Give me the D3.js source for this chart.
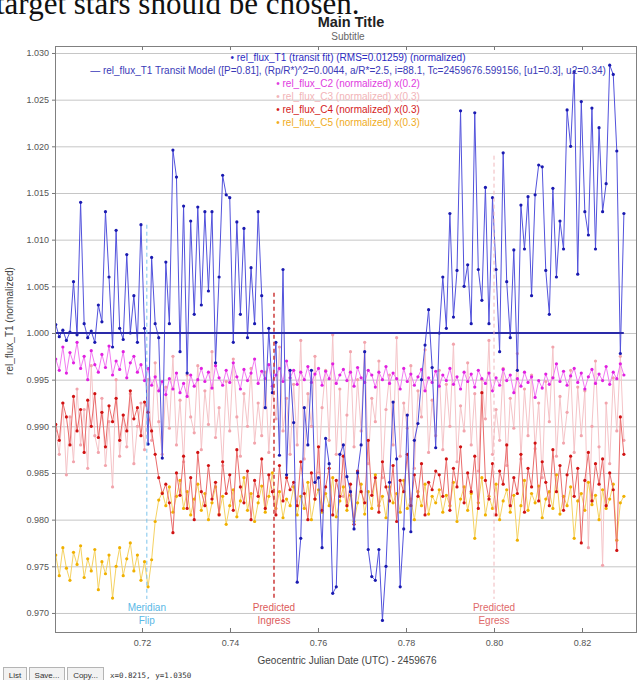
<!DOCTYPE html>
<html>
<head>
<meta charset="utf-8">
<script src="https://cdn.jsdelivr.net/npm/d3@7"></script>
<style>
	body { margin: 0; background: #fff; }
	svg { display: block; font-family: "Liberation Sans", Arial, sans-serif; }
</style>
</head>
<body>
<div id="chart"></div>
<script>
/* global d3 */

// Observation cadence (days) and first exposure, offset from JD 2459676
const startTime = 0.7004;
const cadence = 0.000807;

const xTickValues = [ 0.72, 0.74, 0.76, 0.78, 0.80, 0.82 ];
const yTickValues = [ 0.970, 0.975, 0.980, 0.985, 0.990, 0.995, 1.000, 1.005, 1.010, 1.015, 1.020, 1.025, 1.030 ];

const t1Flux = [
	1.0009, 0.9996, 1.0003, 0.9992, 1.0001, 1.0055, 0.9998, 1.0140, 1.0010, 0.9995,
	1.0002, 0.9990, 1.0030, 1.0012, 1.0130, 1.0060, 0.9985, 1.0110, 1.0005, 0.9993,
	1.0084, 1.0000, 1.0040, 0.9990, 1.0116, 1.0005, 0.9881, 1.0081, 1.0010, 0.9995,
	0.9866, 1.0076, 1.0010, 1.0196, 1.0167, 0.9980, 1.0136, 0.9957, 1.0120, 1.0020,
	1.0135, 1.0030, 1.0130, 1.0045, 1.0130, 0.9968, 1.0060, 1.0169, 1.0148, 1.0145,
	0.9990, 1.0119, 1.0020, 1.0112, 0.9995, 1.0070, 1.0010, 1.0130, 1.0040, 0.9920,
	1.0005, 0.9936, 0.9990, 0.9869, 1.0068, 0.9848, 0.9960, 0.9904, 0.9733, 0.9780,
	0.9920, 0.9880, 0.9960, 0.9840, 0.9845, 0.9770, 0.9887, 0.9860, 0.9721, 0.9728,
	0.9870, 0.9880, 0.9846, 0.9830, 0.9790, 0.9850, 0.9880, 0.9980, 0.9768, 0.9739,
	0.9735, 0.9768, 0.9692, 0.9750, 0.9840, 0.9926, 0.9865, 0.9728, 0.9790, 0.9912,
	0.9787, 0.9885, 0.9903, 0.9950, 0.9987, 1.0025, 0.9963, 0.9877, 1.0000, 1.0060,
	1.0005, 1.0128, 1.0017, 1.0067, 1.0238, 1.0050, 1.0073, 1.0010, 1.0236, 1.0068,
	1.0035, 1.0156, 1.0010, 1.0145, 1.0068, 0.9980, 1.0193, 1.0055, 0.9995, 1.0089,
	0.9960, 1.0137, 1.0090, 1.0146, 1.0040, 1.0148, 1.0180, 1.0178, 1.0067, 1.0020,
	1.0155, 1.0060, 1.0120, 1.0090, 1.0239, 1.0200, 1.0280, 1.0063, 1.0248, 1.0130,
	1.0105, 1.0241, 1.0090, 1.0220, 1.0130, 1.0160, 1.0287, 1.0277, 1.0195, 0.9978,
	1.0128,
];

const c2Flux = [
	0.9972, 0.9960, 0.9985, 0.9957, 0.9979, 0.9968, 0.9990, 0.9962, 0.9975, 0.9950,
	0.9981, 0.9966, 0.9958, 0.9977, 0.9963, 0.9986, 0.9955, 0.9970, 0.9961, 0.9980,
	0.9952, 0.9968, 0.9975, 0.9958, 0.9966, 0.9949, 0.9962, 0.9944, 0.9953, 0.9938,
	0.9948, 0.9934, 0.9951, 0.9940, 0.9957, 0.9936, 0.9946, 0.9932, 0.9955, 0.9943,
	0.9950, 0.9962, 0.9948, 0.9958, 0.9941, 0.9965, 0.9952, 0.9944, 0.9960, 0.9947,
	0.9968, 0.9953, 0.9940, 0.9961, 0.9949, 0.9957, 0.9972, 0.9946, 0.9959, 0.9951,
	0.9966, 0.9943, 0.9955, 0.9962, 0.9948, 0.9970, 0.9952, 0.9960, 0.9945, 0.9958,
	0.9950, 0.9964, 0.9947, 0.9956, 0.9962, 0.9944, 0.9959, 0.9951, 0.9967, 0.9946,
	0.9955, 0.9961, 0.9949, 0.9958, 0.9943, 0.9963, 0.9952, 0.9947, 0.9960, 0.9955,
	0.9942, 0.9958, 0.9950, 0.9964, 0.9946, 0.9957, 0.9951, 0.9940, 0.9962, 0.9948,
	0.9956, 0.9944, 0.9953, 0.9961, 0.9938, 0.9952, 0.9947, 0.9959, 0.9943, 0.9955,
	0.9949, 0.9962, 0.9945, 0.9953, 0.9940, 0.9958, 0.9948, 0.9956, 0.9942, 0.9960,
	0.9951, 0.9946, 0.9957, 0.9938, 0.9952, 0.9944, 0.9961, 0.9949, 0.9955, 0.9936,
	0.9951, 0.9943, 0.9958, 0.9947, 0.9953, 0.9931, 0.9949, 0.9941, 0.9956, 0.9945,
	0.9952, 0.9967, 0.9948, 0.9959, 0.9944, 0.9954, 0.9962, 0.9947, 0.9957, 0.9940,
	0.9953, 0.9961, 0.9946, 0.9956, 0.9949, 0.9964, 0.9945, 0.9958, 0.9951, 0.9967,
	0.9955,
];

const c3Flux = [
	0.9895, 0.9870, 0.9925, 0.9848, 0.9910, 0.9862, 0.9940, 0.9880, 0.9918, 0.9855,
	0.9965, 0.9890, 0.9872, 0.9930, 0.9858, 0.9905, 0.9835, 0.9950, 0.9868, 0.9912,
	0.9878, 0.9935, 0.9860, 0.9900, 0.9925, 0.9875, 0.9950, 0.9885, 0.9968, 0.9905,
	0.9870, 0.9942, 0.9898, 0.9975, 0.9880, 0.9928, 0.9862, 0.9955, 0.9910, 0.9893,
	0.9965, 0.9875, 0.9938, 0.9902, 0.9980, 0.9888, 0.9920, 0.9858, 0.9948, 0.9895,
	0.9972, 0.9910, 0.9868, 0.9935, 0.9900, 0.9962, 0.9882, 0.9925, 0.9890, 0.9958,
	0.9872, 0.9940, 0.9908, 0.9985, 0.9895, 0.9930, 0.9870, 0.9945, 0.9880, 0.9992,
	0.9865, 0.9935, 0.9900, 0.9975, 0.9850, 0.9920, 0.9960, 0.9885, 0.9998, 0.9870,
	0.9940, 0.9825, 0.9912, 0.9980, 0.9878, 0.9950, 0.9895, 0.9990, 0.9860, 0.9930,
	0.9905, 0.9970, 0.9845, 0.9918, 0.9955, 0.9880, 0.9995, 0.9868, 0.9925, 0.9898,
	0.9965, 0.9855, 0.9938, 0.9910, 0.9982, 0.9872, 0.9928, 0.9890, 0.9960, 0.9875,
	0.9945, 0.9900, 0.9988, 0.9862, 0.9922, 0.9895, 0.9968, 0.9880, 0.9935, 0.9852,
	0.9950, 0.9908, 0.9992, 0.9870, 0.9918, 0.9885, 0.9962, 0.9858, 0.9930, 0.9898,
	0.9978, 0.9865, 0.9940, 0.9890, 0.9955, 0.9876, 0.9925, 0.9845, 0.9948, 0.9905,
	0.9985, 0.9868, 0.9932, 0.9882, 0.9915, 0.9960, 0.9872, 0.9942, 0.9890, 0.9938,
	0.9770, 0.9900, 0.9970, 0.9878, 0.9751, 0.9925, 0.9860, 0.9952, 0.9895, 0.9975,
	0.9885,
];

const c4Flux = [
	0.9902, 0.9885, 0.9925, 0.9910, 0.9880, 0.9932, 0.9895, 0.9918, 0.9872, 0.9928,
	0.9900, 0.9935, 0.9888, 0.9915, 0.9878, 0.9922, 0.9905, 0.9930, 0.9885, 0.9912,
	0.9895, 0.9938, 0.9908, 0.9920, 0.9890, 0.9926, 0.9915, 0.9895, 0.9870, 0.9845,
	0.9828, 0.9838, 0.9818, 0.9786, 0.9850, 0.9826, 0.9868, 0.9812, 0.9845, 0.9800,
	0.9872, 0.9830, 0.9815, 0.9858, 0.9822, 0.9840, 0.9805, 0.9862, 0.9828, 0.9848,
	0.9810, 0.9875, 0.9835, 0.9818, 0.9852, 0.9800, 0.9842, 0.9825, 0.9865, 0.9812,
	0.9848, 0.9830, 0.9805, 0.9858, 0.9820, 0.9845, 0.9832, 0.9840, 0.9815, 0.9862,
	0.9828, 0.9800, 0.9850, 0.9822, 0.9878, 0.9810, 0.9835, 0.9855, 0.9805, 0.9842,
	0.9825, 0.9868, 0.9815, 0.9838, 0.9795, 0.9852, 0.9830, 0.9818, 0.9885, 0.9826,
	0.9845, 0.9808, 0.9862, 0.9835, 0.9820, 0.9858, 0.9798, 0.9842, 0.9830, 0.9870,
	0.9815, 0.9848, 0.9825, 0.9860, 0.9805, 0.9840, 0.9832, 0.9852, 0.9848, 0.9825,
	0.9865, 0.9810, 0.9855, 0.9835, 0.9878, 0.9818, 0.9850, 0.9830, 0.9868, 0.9812,
	0.9936, 0.9842, 0.9822, 0.9860, 0.9805, 0.9852, 0.9838, 0.9880, 0.9815, 0.9845,
	0.9828, 0.9870, 0.9808, 0.9855, 0.9835, 0.9882, 0.9820, 0.9862, 0.9840, 0.9815,
	0.9875, 0.9830, 0.9858, 0.9810, 0.9848, 0.9868, 0.9825, 0.9855, 0.9775, 0.9842,
	0.9872, 0.9820, 0.9860, 0.9838, 0.9865, 0.9815, 0.9850, 0.9832, 0.9767, 0.9910,
	0.9870,
];

const c5Flux = [
	0.9762, 0.9740, 0.9770, 0.9748, 0.9735, 0.9765, 0.9752, 0.9772, 0.9738, 0.9758,
	0.9745, 0.9768, 0.9725, 0.9755, 0.9742, 0.9762, 0.9716, 0.9750, 0.9770, 0.9740,
	0.9758, 0.9775, 0.9745, 0.9762, 0.9735, 0.9755, 0.9728, 0.9757, 0.9798, 0.9821,
	0.9829, 0.9815, 0.9835, 0.9808, 0.9825, 0.9842, 0.9812, 0.9830, 0.9805, 0.9822,
	0.9838, 0.9810, 0.9828, 0.9800, 0.9818, 0.9835, 0.9806, 0.9825, 0.9795, 0.9815,
	0.9832, 0.9803, 0.9820, 0.9845, 0.9810, 0.9828, 0.9798, 0.9818, 0.9836, 0.9808,
	0.9825, 0.9850, 0.9812, 0.9830, 0.9802, 0.9822, 0.9815, 0.9835, 0.9805, 0.9825,
	0.9812, 0.9840, 0.9800, 0.9822, 0.9832, 0.9808, 0.9828, 0.9815, 0.9845, 0.9803,
	0.9820, 0.9835, 0.9810, 0.9826, 0.9798, 0.9818, 0.9838, 0.9806, 0.9830, 0.9812,
	0.9848, 0.9815, 0.9825, 0.9802, 0.9835, 0.9818, 0.9828, 0.9808, 0.9842, 0.9812,
	0.9822, 0.9800, 0.9830, 0.9815, 0.9838, 0.9806, 0.9825, 0.9818, 0.9832, 0.9808,
	0.9826, 0.9815, 0.9840, 0.9798, 0.9822, 0.9835, 0.9810, 0.9828, 0.9780, 0.9818,
	0.9845, 0.9805, 0.9825, 0.9812, 0.9838, 0.9800, 0.9820, 0.9832, 0.9808, 0.9826,
	0.9778, 0.9815, 0.9842, 0.9810, 0.9828, 0.9818, 0.9836, 0.9802, 0.9822, 0.9830,
	0.9812, 0.9848, 0.9806, 0.9825, 0.9815, 0.9835, 0.9780, 0.9820, 0.9828, 0.9810,
	0.9840, 0.9816, 0.9826, 0.9800, 0.9832, 0.9812, 0.9822, 0.9838, 0.9778, 0.9818,
	0.9825,
];

// Transit model drawn over the whole run
const modelTimes = [ 0.7004, 0.8295 ];
const modelFlux = [ 1.0000, 1.0000 ];

const markerTimes = [ 0.7211, 0.7500, 0.8000 ];
const markerTops = [ 1.0116, 1.0043, 1.0190 ];
const markerLabels = [ 'Meridian', 'Predicted', 'Predicted' ];
const markerSubLabels = [ 'Flip', 'Ingress', 'Egress' ];

const legendLabels = [
	'\u2022  rel_flux_T1 (transit fit) (RMS=0.01259) (normalized)',
	'\u2014  rel_flux_T1 Transit Model ([P=0.81], (Rp/R*)^2=0.0044, a/R*=2.5, i=88.1, Tc=2459676.599156, [u1=0.3], u2=0.34)',
	'\u2022  rel_flux_C2 (normalized) x(0.2)',
	'\u2022  rel_flux_C3 (normalized) x(0.3)',
	'\u2022  rel_flux_C4 (normalized) x(0.3)',
	'\u2022  rel_flux_C5 (normalized) x(0.3)',
];
const legendColors = [ '#2b2bc2', '#3a3ab8', '#e03ce0', '#f2b4b8', '#d41c1c', '#f0ac1c' ];

/**
 * Light curve plot in the AstroImageJ style
 */
class LightCurveChart {
	/**
	 * @param {string} selector - Container selector
	 */
	constructor( selector ) {
		this.selector = selector;
		this.config = {
			width: 637,
			height: 680,
			left: 55,
			right: 636,
			top: 46,
			bottom: 632,
		};
		this.series = [
			{ values: c3Flux, line: '#f5c4c8', dot: '#f2a4ac' },
			{ values: c5Flux, line: '#f5d262', dot: '#f0b000' },
			{ values: c4Flux, line: '#ea6c6c', dot: '#d01212' },
			{ values: c2Flux, line: '#f27cf2', dot: '#e020e0' },
			{ values: t1Flux, line: '#5252dc', dot: '#1a1ab0' },
		];

		this.initializeChart();
	}

	initializeChart() {
		this.createSVG();
		this.setupScales();
		this.drawGrid();
		this.drawSeries();
		this.drawMarkers();
		this.drawAxes();
		this.drawLegend();
		this.drawTitles();
		this.drawToolbar();
	}

	createSVG() {
		const { width, height } = this.config;
		this.svg = d3.select( this.selector )
			.append( 'svg' )
			.attr( 'width', width )
			.attr( 'height', height );
	}

	setupScales() {
		const { left, right, top, bottom } = this.config;
		this.x = d3.scaleLinear()
			.domain( [ 0.70023, 0.83227 ] )
			.range( [ left, right ] );
		this.y = d3.scaleLinear()
			.domain( [ 0.96796, 1.03075 ] )
			.range( [ bottom, top ] );
	}

	drawGrid() {
		const { left, right } = this.config;
		const grid = this.svg.append( 'g' )
			.attr( 'transform', `translate(${ left },0)` )
			.call( d3.axisLeft( this.y ).tickValues( yTickValues ).tickSize( -( right - left ) ).tickFormat( '' ) );
		grid.select( '.domain' ).remove();
		grid.selectAll( 'line' ).attr( 'stroke', '#c6c6c6' );

		this.svg.append( 'clipPath' )
			.attr( 'id', 'plot-clip' )
			.append( 'rect' )
			.attr( 'x', left )
			.attr( 'y', this.config.top )
			.attr( 'width', right - left )
			.attr( 'height', this.config.bottom - this.config.top );
	}

	drawSeries() {
		const layer = this.svg.append( 'g' ).attr( 'clip-path', 'url(#plot-clip)' );
		const timeAt = ( i ) => startTime + ( i * cadence );
		const line = d3.line()
			.x( ( d, i ) => this.x( timeAt( i ) ) )
			.y( ( d ) => this.y( d ) );

		this.series.forEach( ( s ) => {
			layer.append( 'path' )
				.datum( s.values )
				.attr( 'd', line )
				.attr( 'fill', 'none' )
				.attr( 'stroke', s.line )
				.attr( 'stroke-width', 1 );

			layer.selectAll( null )
				.data( s.values )
				.enter()
				.append( 'circle' )
				.attr( 'cx', ( d, i ) => this.x( timeAt( i ) ) )
				.attr( 'cy', ( d ) => this.y( d ) )
				.attr( 'r', 1.6 )
				.attr( 'fill', s.dot );
		} );

		layer.append( 'path' )
			.datum( modelTimes.map( ( t, i ) => [ t, modelFlux[ i ] ] ) )
			.attr( 'd', d3.line().x( ( d ) => this.x( d[ 0 ] ) ).y( ( d ) => this.y( d[ 1 ] ) ) )
			.attr( 'fill', 'none' )
			.attr( 'stroke', '#2a2aa8' )
			.attr( 'stroke-width', 2 );
	}

	drawMarkers() {
		const styles = [
			{ stroke: '#7cc4ec', width: 1, text: '#5ab8e6' },
			{ stroke: '#cc3a3a', width: 1.5, text: '#dc5a5a' },
			{ stroke: '#f0b8bc', width: 1, text: '#e06a6a' },
		];
		const bottomY = this.y( 0.9715 );

		markerTimes.forEach( ( t, i ) => {
			const xPos = this.x( t );
			this.svg.append( 'line' )
				.attr( 'x1', xPos )
				.attr( 'x2', xPos )
				.attr( 'y1', this.y( markerTops[ i ] ) )
				.attr( 'y2', bottomY )
				.attr( 'stroke', styles[ i ].stroke )
				.attr( 'stroke-width', styles[ i ].width )
				.attr( 'stroke-dasharray', '4,3' );

			this.svg.append( 'text' )
				.attr( 'x', xPos )
				.attr( 'y', 611 )
				.attr( 'text-anchor', 'middle' )
				.style( 'font-size', '10px' )
				.attr( 'fill', styles[ i ].text )
				.text( markerLabels[ i ] );

			this.svg.append( 'text' )
				.attr( 'x', xPos )
				.attr( 'y', 624 )
				.attr( 'text-anchor', 'middle' )
				.style( 'font-size', '10px' )
				.attr( 'fill', styles[ i ].text )
				.text( markerSubLabels[ i ] );
		} );
	}

	drawAxes() {
		const { left, right, top, bottom } = this.config;

		const bottomAxis = this.svg.append( 'g' )
			.attr( 'transform', `translate(0,${ bottom })` )
			.call( d3.axisBottom( this.x ).tickValues( xTickValues ).tickFormat( d3.format( '.2f' ) ).tickSizeInner( -4 ).tickSizeOuter( 0 ).tickPadding( 8 ) );

		const topAxis = this.svg.append( 'g' )
			.attr( 'transform', `translate(0,${ top })` )
			.call( d3.axisTop( this.x ).tickValues( xTickValues ).tickFormat( '' ).tickSizeInner( -4 ).tickSizeOuter( 0 ) );

		const leftAxis = this.svg.append( 'g' )
			.attr( 'transform', `translate(${ left },0)` )
			.call( d3.axisLeft( this.y ).tickValues( yTickValues ).tickFormat( d3.format( '.3f' ) ).tickSizeInner( 3 ).tickSizeOuter( 0 ).tickPadding( 3 ) );

		[ bottomAxis, topAxis, leftAxis ].forEach( ( axis ) => {
			axis.select( '.domain' ).remove();
			axis.selectAll( 'line' ).attr( 'stroke', '#777' );
			axis.selectAll( 'text' )
				.attr( 'fill', '#555' )
				.style( 'font-size', '9px' )
				.style( 'font-family', '"Liberation Sans", Arial, sans-serif' );
		} );

		this.svg.append( 'rect' )
			.attr( 'x', left + 0.5 )
			.attr( 'y', top + 0.5 )
			.attr( 'width', right - left )
			.attr( 'height', bottom - top )
			.attr( 'fill', 'none' )
			.attr( 'stroke', '#808080' );

		this.svg.append( 'text' )
			.attr( 'x', 347 )
			.attr( 'y', 664 )
			.attr( 'text-anchor', 'middle' )
			.style( 'font-size', '10px' )
			.attr( 'fill', '#444' )
			.text( 'Geocentric Julian Date (UTC) - 2459676' );

		this.svg.append( 'text' )
			.attr( 'transform', 'translate(13,321) rotate(-90)' )
			.attr( 'text-anchor', 'middle' )
			.style( 'font-size', '10px' )
			.attr( 'fill', '#444' )
			.text( 'rel_flux_T1 (normalized)' );
	}

	drawLegend() {
		const lineY = [ 61, 74, 87, 100, 113, 126 ];
		legendLabels.forEach( ( label, i ) => {
			this.svg.append( 'text' )
				.attr( 'x', 348 )
				.attr( 'y', lineY[ i ] )
				.attr( 'text-anchor', 'middle' )
				.style( 'font-size', '10px' )
				.attr( 'fill', legendColors[ i ] )
				.text( label );
		} );
	}

	drawTitles() {
		// Tail of the surrounding document text, cropped by the screenshot
		this.svg.append( 'text' )
			.attr( 'x', -4 )
			.attr( 'y', 14 )
			.style( 'font-family', '"Liberation Serif", "Times New Roman", serif' )
			.style( 'font-size', '31px' )
			.attr( 'fill', '#111' )
			.text( 'target stars should be chosen.' );

		this.svg.append( 'text' )
			.attr( 'x', 351 )
			.attr( 'y', 27 )
			.attr( 'text-anchor', 'middle' )
			.style( 'font-size', '14.5px' )
			.style( 'font-weight', 'bold' )
			.attr( 'fill', '#222' )
			.text( 'Main Title' );

		this.svg.append( 'text' )
			.attr( 'x', 348 )
			.attr( 'y', 40 )
			.attr( 'text-anchor', 'middle' )
			.style( 'font-size', '10px' )
			.attr( 'fill', '#666' )
			.text( 'Subtitle' );
	}

	drawToolbar() {
		const buttons = [ { label: 'List', x: 3, w: 23 }, { label: 'Save...', x: 29, w: 35 }, { label: 'Copy...', x: 67, w: 36 } ];
		buttons.forEach( ( b ) => {
			this.svg.append( 'rect' )
				.attr( 'x', b.x + 0.5 )
				.attr( 'y', 667.5 )
				.attr( 'width', b.w )
				.attr( 'height', 14 )
				.attr( 'fill', '#f2f2f2' )
				.attr( 'stroke', '#b4b4b4' );
			this.svg.append( 'text' )
				.attr( 'x', b.x + ( b.w / 2 ) + 0.5 )
				.attr( 'y', 678 )
				.attr( 'text-anchor', 'middle' )
				.style( 'font-size', '8px' )
				.attr( 'fill', '#333' )
				.text( b.label );
		} );

		this.svg.append( 'text' )
			.attr( 'x', 110 )
			.attr( 'y', 678 )
			.style( 'font-family', '"DejaVu Sans Mono", "Liberation Mono", monospace' )
			.style( 'font-size', '7.5px' )
			.attr( 'fill', '#333' )
			.text( 'x=0.8215, y=1.0350' );
	}
}

new LightCurveChart( '#chart' );
</script>
</body>
</html>
